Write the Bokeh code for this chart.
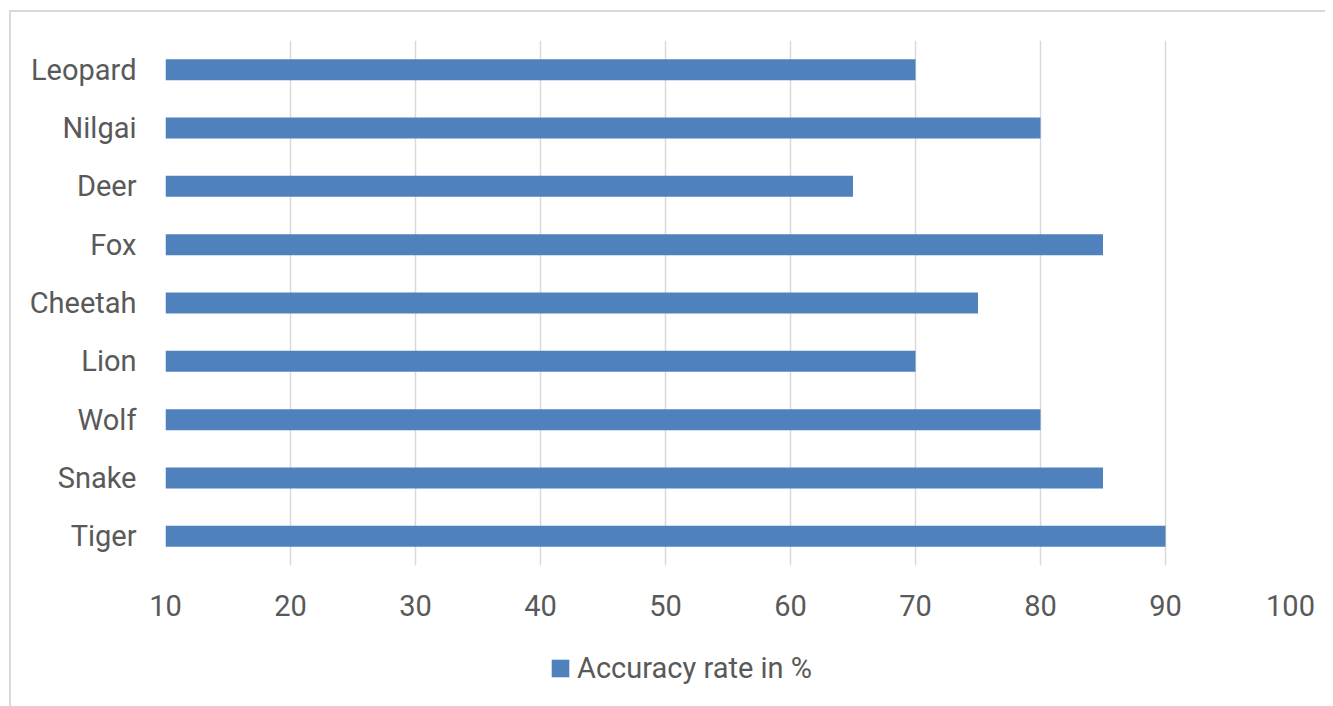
from bokeh.plotting import figure
from bokeh.layouts import column
from bokeh.models import ColumnDataSource, Legend, LegendItem, FixedTicker, Range1d
from bokeh.embed import file_html
from bokeh.resources import INLINE

categories = ["Tiger", "Snake", "Wolf", "Lion", "Cheetah", "Fox", "Deer", "Nilgai", "Leopard"]
values = [90, 85, 80, 70, 75, 85, 65, 80, 70]
x_ticks = [10, 20, 30, 40, 50, 60, 70, 80, 90, 100]
series_name = "Accuracy rate in %"

TEXT = "#595959"
FONT = "Roboto"
BAR = "#4f81bd"

src = ColumnDataSource(dict(cat=categories, val=values))

p = figure(y_range=categories, x_range=Range1d(10, 100),
           frame_width=1125, frame_height=525, output_backend="svg", toolbar_location=None,
           min_border_left=154, min_border_right=35, min_border_top=28, min_border_bottom=60)

r = p.hbar(y="cat", right="val", left=10, height=0.36, source=src,
           fill_color=BAR, line_color=None)

p.outline_line_color = None
p.ygrid.grid_line_color = None
p.xgrid.grid_line_color = "#d9d9d9"
p.xgrid.grid_line_width = 1.5
p.xaxis.ticker = FixedTicker(ticks=x_ticks)

for ax in (p.xaxis[0], p.yaxis[0]):
    ax.axis_line_color = None
    ax.major_tick_line_color = None
    ax.minor_tick_line_color = None
    ax.major_label_text_font = FONT
    ax.major_label_text_font_size = "29px"
    ax.major_label_text_color = TEXT
p.xaxis.major_label_standoff = 23
p.yaxis.major_label_standoff = 23

# legend strip below the chart
p2 = figure(width=1314, height=81, output_backend="svg", toolbar_location=None,
            x_range=Range1d(0, 1), y_range=Range1d(0, 1),
            x_axis_type=None, y_axis_type=None,
            min_border_left=0, min_border_right=0, min_border_top=0, min_border_bottom=0)
p2.outline_line_color = None
p2.grid.visible = False
proxy = p2.hbar(y="val", right="val", height=0.36, source=src,
                fill_color=BAR, line_color=None, visible=False)

legend = Legend(items=[LegendItem(label=series_name, renderers=[proxy])],
                orientation="horizontal", location=(384, 21),
                label_text_font=FONT, label_text_font_size="29px", label_text_color=TEXT,
                glyph_width=22, glyph_height=22, label_standoff=6,
                border_line_color=None, background_fill_alpha=0,
                inactive_fill_alpha=0,
                margin=0, padding=0)
p2.add_layout(legend, "center")

layout = column(p, p2, spacing=0)
layout.margin = (10, 0, 0, 9)
layout.styles = {"border-top": "2px solid #d9d9d9", "border-left": "2px solid #d9d9d9"}

open("out.html", "w").write(file_html(layout, INLINE))
